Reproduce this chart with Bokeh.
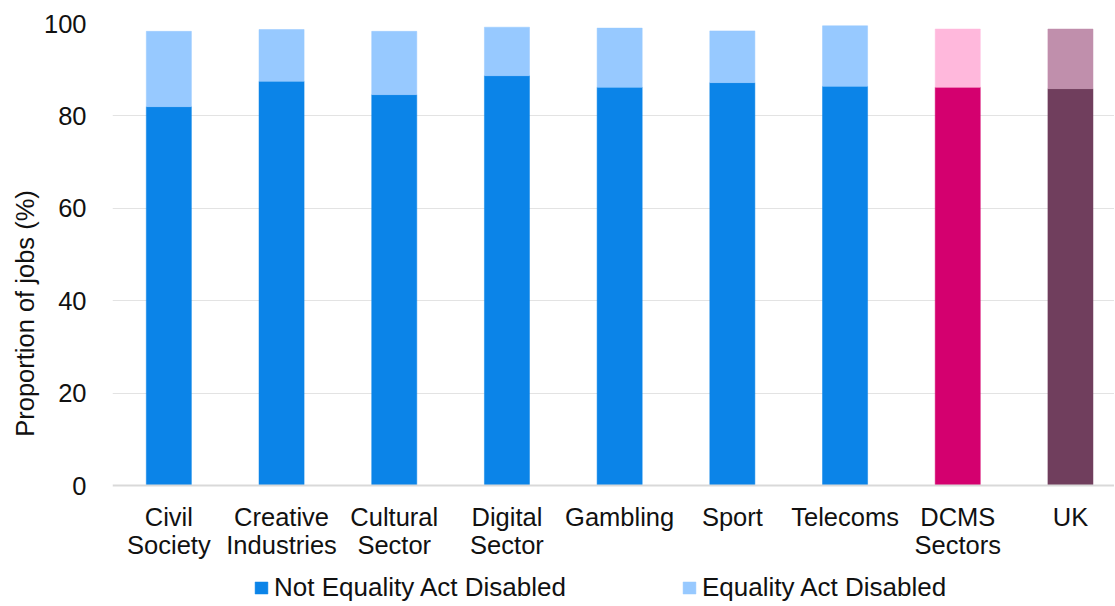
from bokeh.plotting import figure
from bokeh.models import (ColumnDataSource, Range1d, FixedTicker, Legend, LegendItem,
                          Span, Title)
from bokeh.core.properties import value
from bokeh.embed import file_html
from bokeh.resources import INLINE

categories = ["Civil\nSociety", "Creative\nIndustries", "Cultural\nSector", "Digital\nSector",
              "Gambling", "Sport", "Telecoms", "DCMS\nSectors", "UK"]
not_disabled = [82.0, 87.5, 84.6, 88.7, 86.2, 87.2, 86.4, 86.2, 85.9]
disabled = [16.3, 11.2, 13.7, 10.5, 12.8, 11.2, 13.1, 12.6, 12.9]
dark_colors = ["#0b84e8"] * 7 + ["#d4006f", "#703e5d"]
light_colors = ["#97c9ff"] * 7 + ["#ffb8dc", "#c08fac"]
series_names = ["Not Equality Act Disabled", "Equality Act Disabled"]
y_ticks = [0, 20, 40, 60, 80, 100]

FONT = "Liberation Sans"
TXT = "#111111"

# layout (pixels)
FRAME_H = 580          # frame extends below the zero line to hold labels and legend
PX_PER_UNIT = 4.62     # vertical pixels per percentage point
Y_MAX = 100
Y_MIN = Y_MAX - FRAME_H / PX_PER_UNIT
LINE1_PX, LINE2_PX = 31, 59   # category label lines below the zero line

xs = [i + 0.5 for i in range(len(categories))]
tops = [a + b for a, b in zip(not_disabled, disabled)]
line1 = [c.split("\n")[0] for c in categories]
line2 = [c.split("\n")[1] if "\n" in c else "" for c in categories]
src = ColumnDataSource(dict(x=xs, nd=not_disabled, top=tops,
                            dc=dark_colors, lc=light_colors,
                            l1=line1, l2=line2,
                            y1=[-LINE1_PX / PX_PER_UNIT] * len(xs),
                            y2=[-LINE2_PX / PX_PER_UNIT] * len(xs)))

p = figure(frame_width=1002, frame_height=FRAME_H, output_backend="svg",
           toolbar_location=None, x_axis_location=None,
           x_range=Range1d(0, 1002 / 112.7), y_range=Range1d(Y_MIN, Y_MAX),
           min_border_left=112, min_border_top=23, min_border_right=0,
           min_border_bottom=0)
p.outline_line_color = None
p.background_fill_color = "white"

p.ygrid.ticker = FixedTicker(ticks=y_ticks[1:])
p.ygrid.grid_line_color = "#e3e3e3"
p.ygrid.grid_line_width = 1
p.xgrid.grid_line_color = None

r1 = p.vbar(x="x", bottom=0, top="nd", width=0.4, source=src,
            fill_color="dc", line_color="dc", line_width=0.5)
r2 = p.vbar(x="x", bottom="nd", top="top", width=0.4, source=src,
            fill_color="lc", line_color="lc", line_width=0.5)

# zero line (category axis)
p.add_layout(Span(location=0, dimension="width", line_color="#d9d9d9", line_width=2))

# category labels (two lines)
for col, ycol in (("l1", "y1"), ("l2", "y2")):
    p.text(x="x", y=ycol, text=col, source=src, text_align="center",
           text_baseline="middle", text_font=value(FONT),
           text_font_size="25.5px", text_color=TXT)

# y axis
p.yaxis.ticker = FixedTicker(ticks=y_ticks)
p.yaxis.axis_line_color = None
p.yaxis.major_tick_line_color = None
p.yaxis.minor_tick_line_color = None
p.yaxis.major_label_standoff = 20
p.yaxis.major_label_text_font = FONT
p.yaxis.major_label_text_font_size = "25.5px"
p.yaxis.major_label_text_color = TXT

ytitle = Title(text="Proportion of jobs (%)", align="center", offset=57,
               standoff=4, text_font=FONT, text_font_size="25.5px",
               text_font_style="normal", text_color=TXT)
p.add_layout(ytitle, "left")

legend = Legend(items=[LegendItem(label=series_names[0], renderers=[r1], index=0),
                       LegendItem(label=series_names[1], renderers=[r2], index=0)],
                orientation="horizontal", location=(141, 0),
                label_text_font=FONT, label_text_font_size="26px",
                label_text_color=TXT, glyph_width=16, glyph_height=15,
                spacing=115, label_standoff=5, border_line_color=None,
                background_fill_alpha=0, padding=0, margin=0)
p.add_layout(legend, "center")

open("out.html", "w").write(file_html(p, INLINE))
